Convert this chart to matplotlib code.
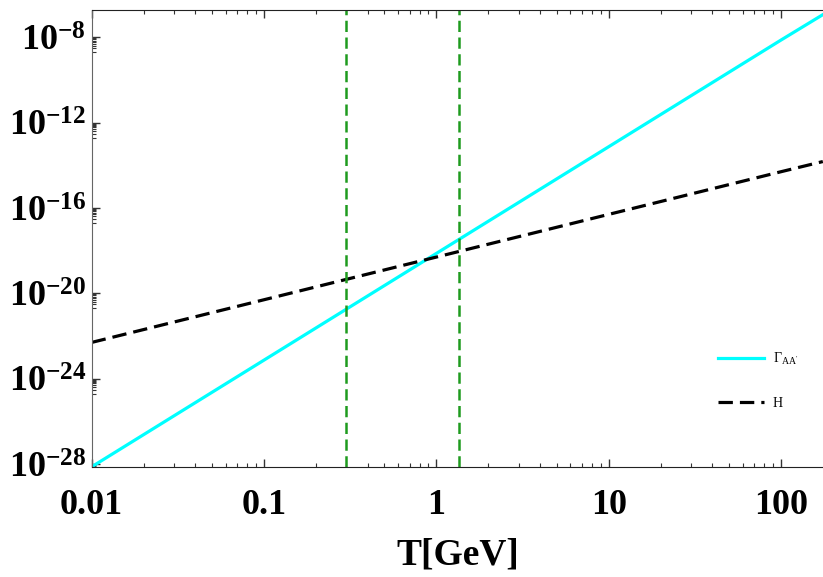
import matplotlib
matplotlib.use("Agg")
import matplotlib.pyplot as plt
import numpy as np
from matplotlib.ticker import FixedLocator, NullFormatter

plt.rcParams['mathtext.fontset'] = 'custom'
plt.rcParams['mathtext.rm'] = 'Liberation Serif'
plt.rcParams['mathtext.bf'] = 'Liberation Serif:bold'
plt.rcParams['mathtext.it'] = 'Liberation Serif:italic'

# Data (log-log straight lines)
T_vals = [0.01, 0.1, 1, 10, 100, 175]
gamma_vals = [7.4e-29, 7.4e-24, 7.4e-19, 7.4e-14, 7.4e-9, 1.15e-7]
hubble_vals = [5.0e-23, 5.0e-21, 5.0e-19, 5.0e-17, 5.0e-15, 1.5e-14]
vlines_T = [0.30, 1.35]

xtick_vals = [0.01, 0.1, 1, 10, 100]
xtick_labels = ['0.01', '0.1', '1', '10', '100']
ytick_exps = [-8, -12, -16, -20, -24, -28]

fig = plt.figure(figsize=(8.23, 5.77), dpi=100)
ax = fig.add_axes([0.1114, 0.1912, 0.8886, 0.7915])

ax.plot(T_vals, gamma_vals, color='#00FFFF', lw=2.3, label=r'$\mathrm{\Gamma_{AA^{\prime}}}$')
ax.plot(T_vals, hubble_vals, color='black', lw=2.3, dashes=(4.5, 2.2), label='H')
for v in vlines_T:
    ax.axvline(v, color='#1E9B1E', lw=1.8, dashes=(4.5, 2.2))

ax.set_xscale('log')
ax.set_yscale('log')
ax.set_xlim(0.01, 10**2.244)
ax.set_ylim(10**-28.125, 10**-6.72)

ax.set_xticks(xtick_vals)
ax.set_xticklabels(xtick_labels, fontfamily='Liberation Serif', fontweight='bold', fontsize=26)
xminor = [k * d for d in [0.01, 0.1, 1, 10, 100] for k in range(2, 10)]
ax.xaxis.set_minor_locator(FixedLocator(xminor))
ax.xaxis.set_minor_formatter(NullFormatter())

ax.set_yticks([10.0**e for e in ytick_exps])
ax.set_yticklabels([r'$\mathbf{10^{%d}}$' % e for e in ytick_exps], fontsize=26)
yminor = [k * 10.0**(e - 1) for e in ytick_exps for k in range(2, 10)]
ax.yaxis.set_minor_locator(FixedLocator(yminor))
ax.yaxis.set_minor_formatter(NullFormatter())

ax.tick_params(which='both', direction='in', top=True, right=False, colors='#333333')
ax.tick_params(which='major', length=6, width=1)
ax.tick_params(which='minor', length=3, width=0.8)
ax.tick_params(axis='x', which='major', pad=16, labelcolor='black')
ax.tick_params(axis='y', which='major', pad=4, labelcolor='black')

ax.spines['right'].set_visible(False)
ax.spines['left'].set_color('#666666')
ax.spines['bottom'].set_color('#222222')
ax.spines['top'].set_color('#222222')

ax.set_xlabel('T[GeV]', fontfamily='Liberation Serif', fontweight='bold', fontsize=27, labelpad=11)

leg = ax.legend(loc='upper left', bbox_to_anchor=(0.84, 0.28), frameon=False,
                prop={'family': 'Liberation Serif', 'size': 10},
                handlelength=3.3, labelspacing=2.1, handletextpad=0.6)

fig.savefig('out.png', dpi=100)
